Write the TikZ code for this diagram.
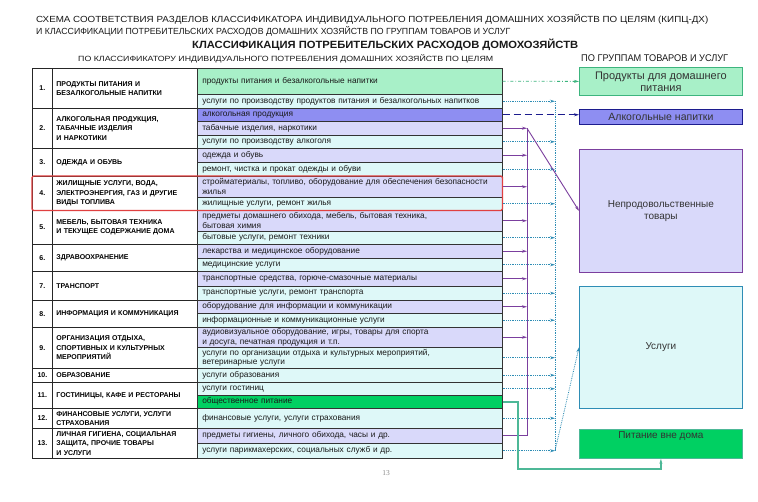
\documentclass[tikz,border=0pt]{standalone}
\usepackage{fontspec}
\usepackage{graphicx}
\setmainfont{Liberation Sans}
\newfontfamily\pagenofont{Liberation Serif}
\usetikzlibrary{arrows.meta}

\definecolor{foodgreen}{HTML}{A8F0C8}
\definecolor{servcyan}{HTML}{DEF8F8}
\definecolor{goodslav}{HTML}{D9D9FA}
\definecolor{alcblue}{HTML}{8E8EF2}
\definecolor{cafegreen}{HTML}{00D062}
\definecolor{foodline}{HTML}{3DB57E}
\definecolor{alcline}{HTML}{1C1C8E}
\definecolor{goodsline}{HTML}{7B3F9E}
\definecolor{servline}{HTML}{2E8DB5}
\definecolor{cafeline}{HTML}{4DB897}
\definecolor{markred}{HTML}{E04040}

\begin{document}
\begin{tikzpicture}[x=1pt,y=-1pt,
		item/.style={draw=black!80, line width=0.5pt, anchor=north west, inner sep=0pt, inner xsep=5pt,
			text width=295pt, minimum width=305pt, align=left, text=black!90, font=\fontsize{8.3}{9.6}\selectfont},
		numcell/.style={draw=black!85, line width=0.8pt, anchor=north west, inner sep=0pt,
			minimum width=20pt, font=\bfseries\fontsize{7}{9}\selectfont},
		sectcell/.style={draw=black!85, line width=0.8pt, anchor=north west, inner sep=0pt, inner xsep=4pt,
			text width=137pt, minimum width=145pt, align=left, font=\bfseries\fontsize{7}{9.4}\selectfont},
		groupbox/.style={line width=0.8pt, anchor=north west, minimum width=163pt, inner sep=1pt,
			align=center, text=black!80, font=\fontsize{10}{11.5}\selectfont},
		headarrow/.style={-{Stealth[length=5pt,width=3pt]}},
		goodsarrow/.style={goodsline, line width=0.9pt},
		servarrow/.style={servline, line width=0.8pt, densely dotted},
		header/.style={anchor=base west, inner sep=0pt, text=black!90}]

	\fill[white] (0,0) rectangle (758,502);
	\useasboundingbox (0,0) rectangle (758,502);

	% titles
	\node[header] (title1) at (36,23) {\resizebox{672pt}{8pt}{СХЕМА СООТВЕТСТВИЯ РАЗДЕЛОВ КЛАССИФИКАТОРА ИНДИВИДУАЛЬНОГО ПОТРЕБЛЕНИЯ ДОМАШНИХ ХОЗЯЙСТВ ПО ЦЕЛЯМ (КИПЦ-ДХ)}};
	\node[header] (title2) at (36,35) {\resizebox{474pt}{8pt}{И КЛАССИФИКАЦИИ ПОТРЕБИТЕЛЬСКИХ РАСХОДОВ ДОМАШНИХ ХОЗЯЙСТВ ПО ГРУППАМ ТОВАРОВ И УСЛУГ}};
	\node[header] (title3) at (192,49) {\resizebox{386pt}{9.5pt}{\bfseries КЛАССИФИКАЦИЯ ПОТРЕБИТЕЛЬСКИХ РАСХОДОВ ДОМОХОЗЯЙСТВ}};
	\node[header] (headleft) at (78,62) {\resizebox{415pt}{6.8pt}{ПО КЛАССИФИКАТОРУ ИНДИВИДУАЛЬНОГО ПОТРЕБЛЕНИЯ ДОМАШНИХ ХОЗЯЙСТВ ПО ЦЕЛЯМ}};
	\node[header] (headright) at (581,62) {\resizebox{147pt}{6.8pt}{ПО ГРУППАМ ТОВАРОВ И УСЛУГ}};

	% sections of the classifier
	\foreach \id/\ya/\yb/\num/\txt in {
			1/68/108/1./{ПРОДУКТЫ ПИТАНИЯ И\\БЕЗАЛКОГОЛЬНЫЕ НАПИТКИ},
			2/108/148/2./{АЛКОГОЛЬНАЯ ПРОДУКЦИЯ,\\ТАБАЧНЫЕ ИЗДЕЛИЯ\\И НАРКОТИКИ},
			3/148/176/3./{ОДЕЖДА И ОБУВЬ},
			4/176/210/4./{ЖИЛИЩНЫЕ УСЛУГИ, ВОДА,\\ЭЛЕКТРОЭНЕРГИЯ, ГАЗ И ДРУГИЕ\\ВИДЫ ТОПЛИВА},
			5/210/244/5./{МЕБЕЛЬ, БЫТОВАЯ ТЕХНИКА\\И ТЕКУЩЕЕ СОДЕРЖАНИЕ ДОМА},
			6/244/271/6./{ЗДРАВООХРАНЕНИЕ},
			7/271/300/7./{ТРАНСПОРТ},
			8/300/327/8./{ИНФОРМАЦИЯ И КОММУНИКАЦИЯ},
			9/327/368/9./{ОРГАНИЗАЦИЯ ОТДЫХА,\\СПОРТИВНЫХ И КУЛЬТУРНЫХ\\МЕРОПРИЯТИЙ},
			10/368/382/10./{ОБРАЗОВАНИЕ},
			11/382/408/11./{ГОСТИНИЦЫ, КАФЕ И РЕСТОРАНЫ},
			12/408/428/12./{ФИНАНСОВЫЕ УСЛУГИ, УСЛУГИ\\СТРАХОВАНИЯ},
			13/428/458/13./{ЛИЧНАЯ ГИГИЕНА, СОЦИАЛЬНАЯ\\ЗАЩИТА, ПРОЧИЕ ТОВАРЫ\\И УСЛУГИ}} {
		\node[numcell, minimum height={\yb pt-\ya pt}] (n\id) at (32,\ya) {\num};
		\node[sectcell, minimum height={\yb pt-\ya pt}] (s\id) at (52,\ya) {\txt};
	}

	% items
	\foreach \id/\ya/\yb/\col/\txt in {
			i1a/68/94/foodgreen/{продукты питания и безалкогольные напитки},
			i1b/94/108/servcyan/{услуги по производству продуктов питания и безалкогольных напитков},
			i2a/108/121/alcblue/{алкогольная продукция},
			i2b/121/135/goodslav/{табачные изделия, наркотики},
			i2c/135/148/servcyan/{услуги по производству алкоголя},
			i3a/148/162/goodslav/{одежда и обувь},
			i3b/162/176/servcyan/{ремонт, чистка и прокат одежды и обуви},
			i4a/176/197/goodslav/{стройматериалы, топливо, оборудование для обеспечения безопасности\\жилья},
			i4b/197/210/servcyan/{жилищные услуги, ремонт жилья},
			i5a/210/231/goodslav/{предметы домашнего обихода, мебель, бытовая техника,\\бытовая химия},
			i5b/231/244/servcyan/{бытовые услуги, ремонт техники},
			i6a/244/258/goodslav/{лекарства и медицинское оборудование},
			i6b/258/271/servcyan/{медицинские услуги},
			i7a/271/286/goodslav/{транспортные средства, горюче-смазочные материалы},
			i7b/286/300/servcyan/{транспортные услуги, ремонт транспорта},
			i8a/300/313/goodslav/{оборудование для информации и коммуникации},
			i8b/313/327/servcyan/{информационные и коммуникационные услуги},
			i9a/327/347/goodslav/{аудиовизуальное оборудование, игры, товары для спорта\\и досуга, печатная продукция и т.п.},
			i9b/347/368/servcyan/{услуги по организации отдыха и культурных мероприятий,\\ветеринарные услуги},
			i10/368/382/servcyan/{услуги образования},
			i11a/382/395/servcyan/{услуги гостиниц},
			i11b/395/408/cafegreen/{общественное питание},
			i12/408/428/servcyan/{финансовые услуги, услуги страхования},
			i13a/428/443/goodslav/{предметы гигиены, личного обихода, часы и др.},
			i13b/443/458/servcyan/{услуги парикмахерских, социальных служб и др.}} {
		\node[item, fill=\col, minimum height={\yb pt-\ya pt}] (\id) at (197,\ya) {\txt};
	}

	% housing row is marked
	\draw[markred, line width=1.3pt, rounded corners=1.5pt] (n4.north west) rectangle (i4b.south east);

	% groups of goods and services
	\node[groupbox, draw=foodline, fill=foodgreen, minimum height=28pt, font=\fontsize{11}{12}\selectfont] (food) at (579,67) {Продукты для домашнего\\питания};
	\node[groupbox, draw=alcline, fill=alcblue, minimum height=15pt, font=\fontsize{10.5}{12}\selectfont] (alc) at (579,109) {Алкогольные напитки};
	\node[groupbox, draw=goodsline, fill=goodslav, minimum height=123pt] (goods) at (579,149) {Непродовольственные\\товары};
	\node[groupbox, draw=servline, fill=servcyan, minimum height=122pt] (serv) at (579,286) {Услуги};
	\node[groupbox, draw=cafeline, fill=cafegreen, minimum height=29pt,
		label={[anchor=north, inner sep=2pt, text=black!80, font=\fontsize{10}{11}\selectfont]north:Питание вне дома}] (cafe) at (579,429) {};

	\coordinate (pv) at (527,0);
	\coordinate (sv) at (555,0);
	\coordinate (cafeturn) at (518,469);

	% connectors
	\draw[foodline, line width=0.8pt, dash dot, headarrow] (i1a.east) -- (food.west);
	\draw[alcline, line width=1pt, dash pattern=on 7pt off 4pt, headarrow] (i2a.east) -- (alc.west |- i2a.east);

	\foreach \id in {i1b,i2c,i3b,i4b,i5b,i6b,i7b,i8b,i9b,i10,i11a,i12,i13b}
		\draw[servarrow, headarrow] (\id.east) -- (\id.east -| sv);
	\draw[servarrow] (i1b.east -| sv) -- (i13b.east -| sv);
	\draw[servarrow, headarrow] (i13b.east -| sv) -- (serv.west);

	\foreach \id in {i2b,i3a,i4a,i5a,i6a,i7a,i8a,i9a}
		\draw[goodsarrow, headarrow] (\id.east) -- (\id.east -| pv);
	\draw[goodsarrow] (i13a.east) -- (i13a.east -| pv) -- (i2b.east -| pv);
	\draw[goodsarrow, headarrow] (i2b.east -| pv) -- (goods.west);

	\draw[cafeline, line width=1.8pt, headarrow] (i11b.east) -| (cafeturn) -| (cafe.south);

	\node[text=black!45, font=\pagenofont\fontsize{7.5}{8}\selectfont] (pageno) at (386,473) {13};
\end{tikzpicture}
\end{document}
